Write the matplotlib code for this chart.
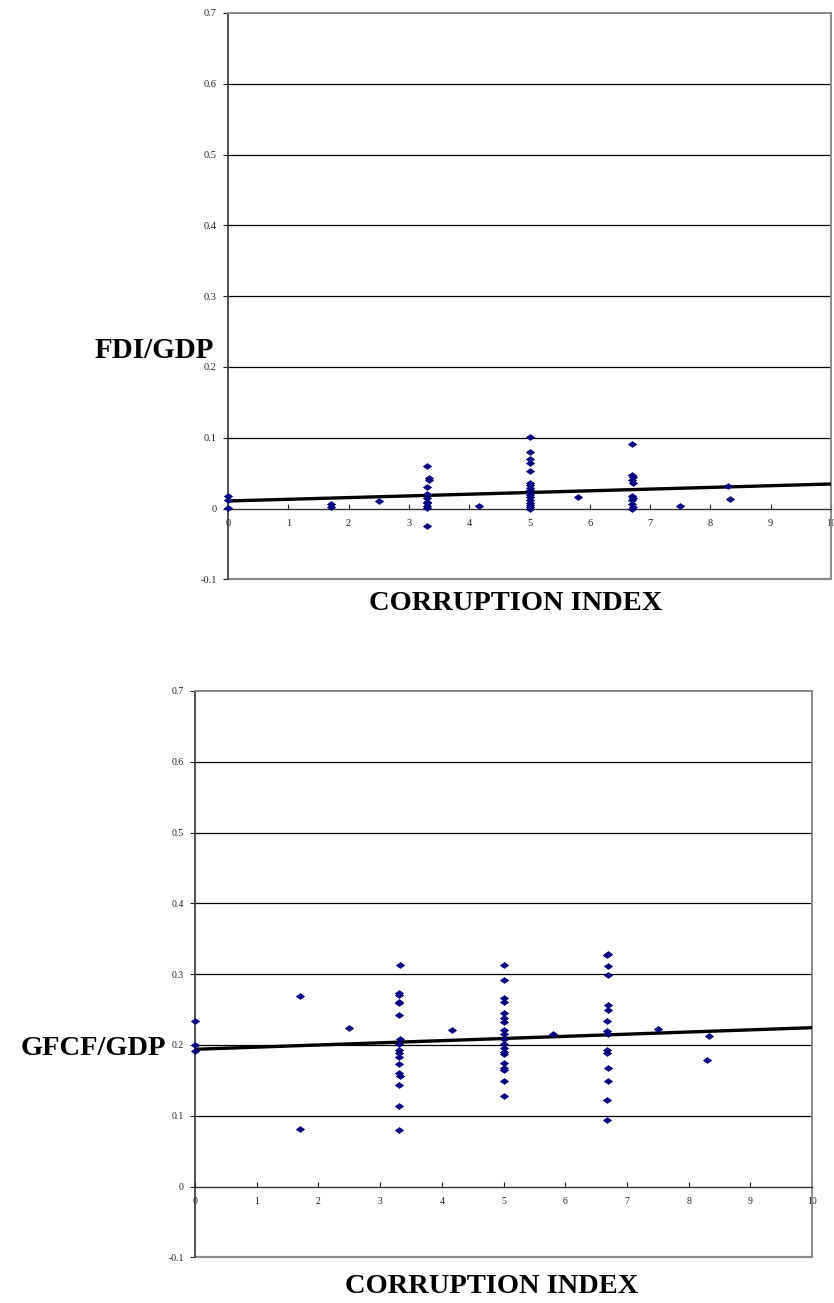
import matplotlib
matplotlib.use("Agg")
import matplotlib.pyplot as plt
from matplotlib.path import Path

# ---------------- data ----------------
fdi_x = [0, 0, 0,
         1.7, 1.7,
         2.5,
         3.3, 3.34, 3.33, 3.3, 3.3, 3.3, 3.3, 3.3, 3.3, 3.3, 3.3,
         4.17,
         5, 5, 5, 5, 5, 5, 5, 5, 5, 5, 5, 5, 5, 5, 5, 5, 5,
         5.8,
         6.7, 6.7, 6.72, 6.7, 6.72, 6.7, 6.72, 6.7, 6.7, 6.72, 6.7,
         7.5,
         8.3, 8.33]
fdi_y = [0.017, 0.012, 0.001,
         0.007, 0.002,
         0.0106,
         0.060, 0.0426, 0.040, 0.031, 0.0205, 0.0144, 0.0096, 0.0073, 0.0035, 0.0003, -0.0247,
         0.004,
         0.1014, 0.080, 0.070, 0.064, 0.053, 0.0365, 0.033, 0.029, 0.026, 0.022, 0.019, 0.016,
         0.012, 0.008, 0.005, 0.0017, -0.001,
         0.0167,
         0.0907, 0.047, 0.044, 0.040, 0.0365, 0.0177, 0.0144, 0.012, 0.006, 0.0017, 0.0,
         0.003,
         0.032, 0.0134]

gfcf_x = [0, 0, 0,
          1.7, 1.7,
          2.5,
          3.33, 3.3, 3.3, 3.3, 3.3, 3.3, 3.33, 3.3, 3.3, 3.3, 3.3, 3.3, 3.3, 3.33, 3.3, 3.3, 3.3,
          4.17,
          5, 5, 5, 5, 5, 5, 5, 5, 5, 5, 5, 5, 5, 5, 5, 5, 5, 5, 5,
          5.8,
          6.7, 6.67, 6.7, 6.7, 6.7, 6.7, 6.67, 6.67, 6.7, 6.67, 6.67, 6.7, 6.7, 6.67, 6.67,
          7.5,
          8.33, 8.3]
gfcf_y = [0.234, 0.200, 0.192,
          0.2695, 0.081,
          0.224,
          0.313, 0.273, 0.270, 0.261, 0.259, 0.242, 0.209, 0.201, 0.193, 0.189, 0.183, 0.173,
          0.161, 0.156, 0.144, 0.113, 0.080,
          0.221,
          0.313, 0.291, 0.266, 0.261, 0.2455, 0.238, 0.233, 0.221, 0.216, 0.209, 0.201, 0.196,
          0.190, 0.187, 0.174, 0.167, 0.164, 0.149, 0.128,
          0.216,
          0.329, 0.327, 0.311, 0.299, 0.256, 0.249, 0.234, 0.219, 0.215, 0.193, 0.189, 0.168,
          0.149, 0.122, 0.094,
          0.222,
          0.212, 0.179]

# linear trend lines (end points)
fdi_trend_x = [0, 10]
fdi_trend_y = [0.0106, 0.0346]
gfcf_trend_x = [0, 10]
gfcf_trend_y = [0.1938, 0.2243]

x_ticks = [0, 1, 2, 3, 4, 5, 6, 7, 8, 9, 10]
y_ticks = [-0.1, 0, 0.1, 0.2, 0.3, 0.4, 0.5, 0.6, 0.7]
y_tick_labels = ["-0.1", "0", "0.1", "0.2", "0.3", "0.4", "0.5", "0.6", "0.7"]
grid_levels = [0.1, 0.2, 0.3, 0.4, 0.5, 0.6]

# ---------------- figure ----------------
W, H = 834, 1303
fig = plt.figure(figsize=(W / 100, H / 100), dpi=100)
plt.rcParams['font.family'] = ['Liberation Serif', 'DejaVu Serif']

# wide, flat diamond like the spreadsheet marker
wide_diamond = Path([(-1.0, 0.0), (0.0, 0.72), (1.0, 0.0), (0.0, -0.72), (-1.0, 0.0)],
                    [Path.MOVETO, Path.LINETO, Path.LINETO, Path.LINETO, Path.CLOSEPOLY])

def px_axes(left, right, top, bottom):
    return fig.add_axes([left / W, 1 - bottom / H, (right - left) / W, (bottom - top) / H])

def style(ax, xs, ys, tx, ty, tick_fs):
    ax.set_xlim(0, 10)
    ax.set_ylim(-0.1, 0.7)
    for g in grid_levels:
        ax.axhline(g, color='black', lw=0.9, zorder=1)
    ax.axhline(-0.1, color='#8a8a8a', lw=1.6, zorder=2, clip_on=False)
    ax.spines['bottom'].set_position(('data', 0))
    ax.spines['bottom'].set_color('#333333')
    ax.spines['bottom'].set_linewidth(1.0)
    ax.spines['left'].set_color('#333333')
    ax.spines['left'].set_linewidth(1.2)
    for s in ('top', 'right'):
        ax.spines[s].set_color('#8a8a8a')
        ax.spines[s].set_linewidth(1.4)
    ax.set_xticks(x_ticks)
    ax.set_xticklabels([str(t) for t in x_ticks])
    ax.set_yticks(y_ticks)
    ax.set_yticklabels(y_tick_labels)
    ax.tick_params(axis='x', direction='in', length=3.5, width=0.8, pad=7.5,
                   labelsize=tick_fs, colors='#222222')
    ax.tick_params(axis='y', direction='out', length=3.5, width=0.8, pad=4.5,
                   labelsize=tick_fs, colors='#222222')
    ax.plot(tx, ty, color='black', lw=2.4, solid_capstyle='butt', zorder=3)
    ax.plot(xs, ys, linestyle='none', marker=wide_diamond, ms=6.0, color='#000080',
            mec='#000080', mew=0.4, zorder=4, clip_on=False)
    ax.patch.set_alpha(0)

ax1 = px_axes(228, 831, 12.9, 579.3)
style(ax1, fdi_x, fdi_y, fdi_trend_x, fdi_trend_y, 7.5)

ax2 = px_axes(195, 812, 690.9, 1257.3)
style(ax2, gfcf_x, gfcf_y, gfcf_trend_x, gfcf_trend_y, 7.0)

title_kw = dict(fontweight='bold', family=['Liberation Serif', 'DejaVu Serif'], color='black')
fig.text(214 / W, 1 - 358 / H, "FDI/GDP", ha='right', va='baseline', fontsize=21, **title_kw)
fig.text(166 / W, 1 - 1055 / H, "GFCF/GDP", ha='right', va='baseline', fontsize=20.5, **title_kw)
fig.text(516 / W, 1 - 610 / H, "CORRUPTION INDEX", ha='center', va='baseline', fontsize=20.5, **title_kw)
fig.text(492 / W, 1 - 1293 / H, "CORRUPTION INDEX", ha='center', va='baseline', fontsize=20.5, **title_kw)

fig.savefig("out.png", dpi=100)
